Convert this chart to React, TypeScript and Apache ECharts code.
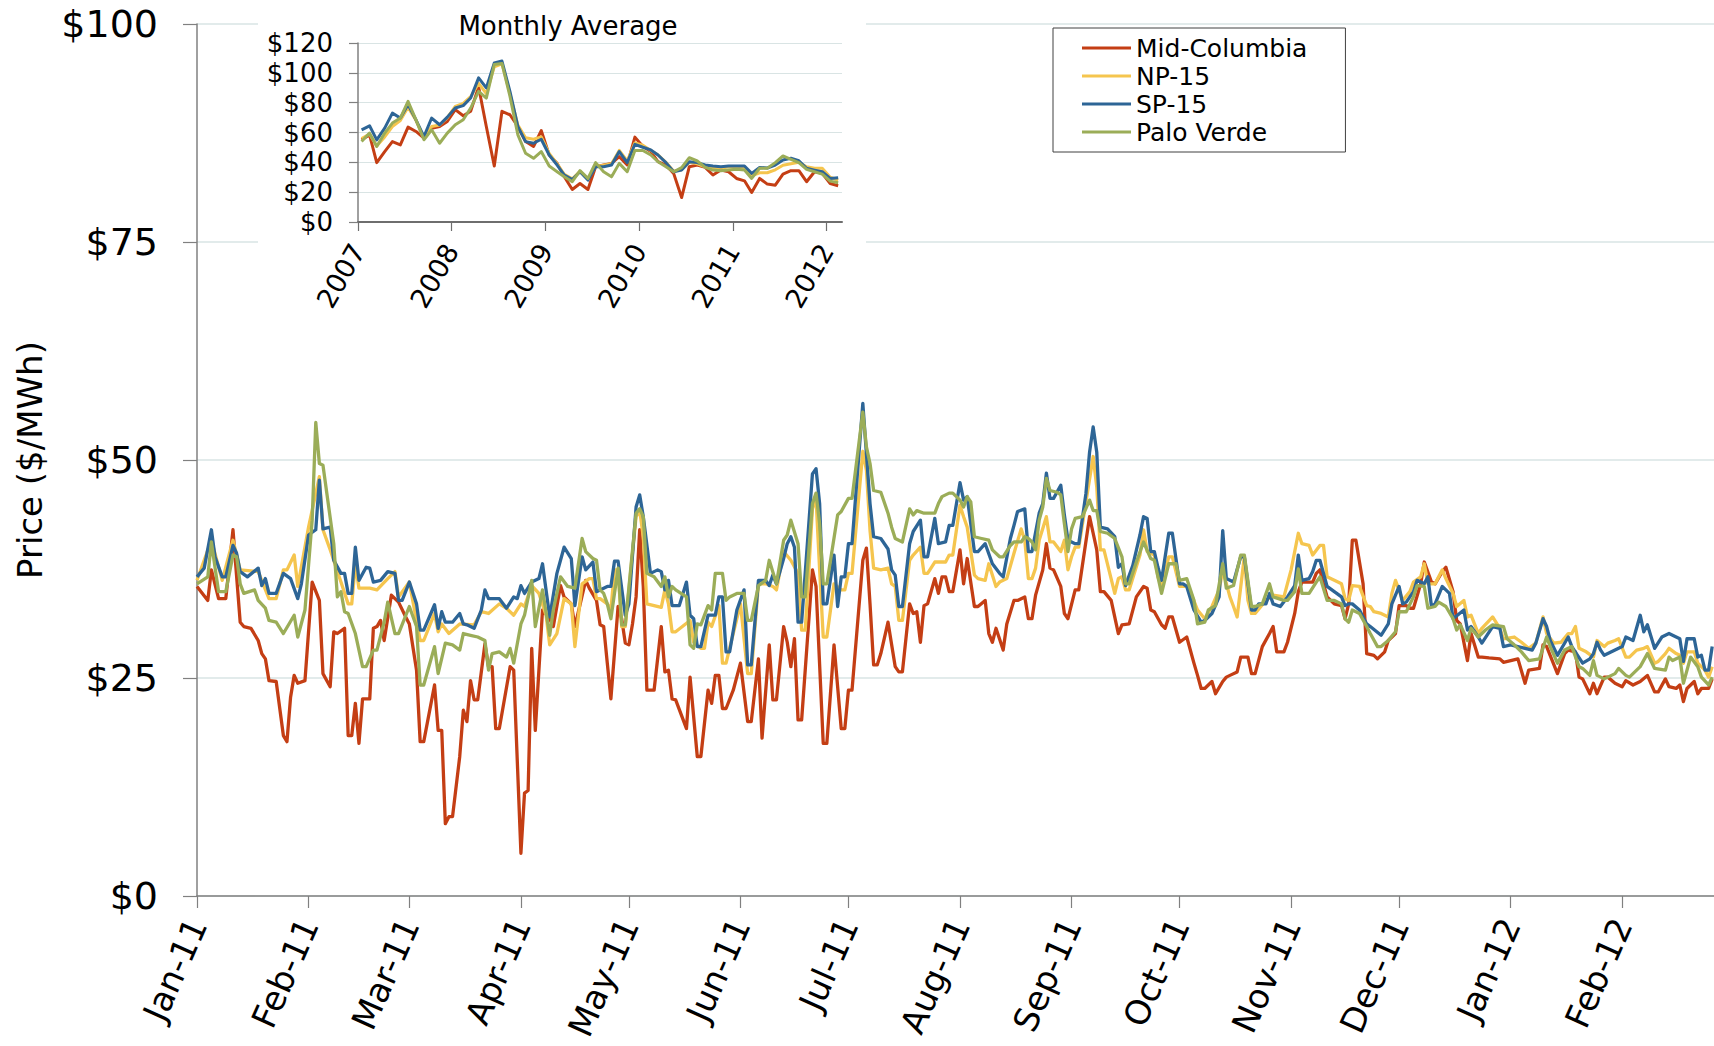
import React, { useEffect, useRef } from 'react';
import * as echarts from 'echarts';

const seriesNames = ['Mid-Columbia', 'NP-15', 'SP-15', 'Palo Verde'];
const seriesColors = ['#C43E14', '#F5C54E', '#2D6596', '#9BAD58'];
const monthNames = ['Jan', 'Feb', 'Mar', 'Apr', 'May', 'Jun', 'Jul', 'Aug', 'Sep', 'Oct', 'Nov', 'Dec'];

// Daily prices: [day counted from 1 Jan 2011, $/MWh]
const midColumbiaDaily = [[0,35.5],[3,33.9],[4,37.4],[6,34.1],[8,34.1],[10,42.0],[12,31.4],[13,30.9],[15,30.7],[17,29.3],[18,27.8],[19,27.2],[20,24.7],[22,24.6],[24,18.4],[25,17.7],[26,22.8],[27,25.3],[28,24.4],[30,24.7],[32,36.0],[34,33.9],[35,25.5],[37,24.0],[38,30.3],[39,30.1],[41,30.7],[42,18.4],[43,18.4],[44,22.1],[45,17.5],[46,22.6],[48,22.6],[49,30.7],[50,30.9],[51,31.6],[52,29.3],[54,34.5],[56,33.7],[58,32.0],[59,31.2],[61,25.9],[62,17.7],[63,17.7],[66,24.2],[67,19.0],[68,19.0],[69,8.3],[70,9.1],[71,9.1],[73,16.0],[74,21.3],[75,20.0],[76,24.7],[77,22.5],[78,22.5],[80,28.9],[81,26.3],[82,26.3],[83,19.2],[84,19.2],[87,26.3],[88,25.9],[90,4.9],[91,11.8],[92,12.1],[93,28.4],[94,19.0],[96,32.8],[98,31.8],[99,30.9],[101,35.6],[102,34.3],[104,33.5],[105,30.9],[108,36.2],[109,35.3],[111,33.9],[112,31.1],[113,30.9],[114,26.7],[115,22.6],[117,33.2],[118,31.8],[119,29.0],[120,28.8],[121,31.2],[122,34.3],[123,42.0],[124,35.5],[125,23.6],[127,23.6],[129,30.9],[130,25.7],[131,25.9],[132,22.6],[133,22.5],[136,19.2],[137,25.1],[139,16.0],[140,16.0],[142,23.6],[143,22.1],[144,25.3],[145,25.3],[146,21.5],[147,21.5],[149,23.6],[151,26.7],[153,20.0],[154,20.0],[156,27.2],[157,18.1],[159,28.8],[160,22.5],[161,22.5],[163,30.9],[164,29.1],[165,26.3],[166,29.5],[167,20.2],[168,20.2],[171,37.4],[172,35.5],[174,17.5],[175,17.5],[177,28.8],[179,19.2],[180,19.2],[181,23.6],[182,23.6],[185,38.5],[186,39.9],[187,33.5],[188,26.5],[189,26.5],[190,27.8],[192,31.4],[194,26.3],[195,25.7],[196,25.7],[198,33.5],[199,32.4],[200,32.6],[201,29.1],[202,33.3],[203,33.5],[205,36.4],[206,34.7],[207,36.6],[208,36.6],[209,34.9],[210,34.9],[212,39.7],[213,35.8],[214,38.7],[216,33.2],[217,33.2],[219,33.9],[220,30.1],[221,29.1],[222,30.7],[224,28.2],[225,31.2],[227,33.9],[228,33.9],[230,34.3],[231,31.8],[232,31.8],[233,34.5],[235,37.4],[236,40.4],[237,37.6],[238,37.4],[240,35.5],[241,32.4],[242,31.8],[244,35.1],[245,35.1],[248,43.5],[249,41.6],[250,39.7],[251,34.9],[252,34.9],[254,33.9],[256,30.1],[257,31.1],[259,31.2],[261,34.3],[263,35.5],[264,35.3],[265,32.8],[266,32.6],[268,31.1],[269,30.7],[270,32.0],[271,32.0],[273,29.1],[275,29.7],[277,26.7],[278,25.3],[279,23.8],[280,23.8],[282,24.6],[283,23.2],[285,24.6],[286,25.1],[287,25.3],[289,25.7],[290,27.4],[292,27.4],[293,25.5],[294,25.5],[296,28.6],[298,30.1],[299,30.9],[300,28.0],[302,28.0],[303,29.1],[305,32.4],[306,34.9],[307,36.0],[310,36.0],[311,37.0],[312,37.4],[313,35.8],[314,34.3],[316,33.5],[318,33.3],[319,31.8],[320,33.5],[321,40.8],[322,40.8],[324,35.8],[325,27.8],[327,27.6],[328,27.2],[330,28.0],[331,29.3],[333,30.1],[334,33.3],[336,33.3],[337,33.0],[338,33.0],[340,35.8],[341,38.3],[343,36.0],[344,35.8],[346,37.2],[347,37.7],[349,34.9],[350,31.6],[351,31.2],[353,27.0],[354,30.1],[356,27.4],[357,27.4],[359,27.3],[362,27.2],[363,26.8],[365,27.0],[367,27.2],[369,24.4],[370,25.9],[373,26.1],[374,28.8],[375,28.6],[378,25.5],[380,27.8],[381,28.2],[383,28.0],[384,25.1],[385,24.9],[387,23.2],[388,24.4],[389,23.2],[391,25.1],[392,25.1],[394,24.4],[396,24.0],[397,24.7],[399,24.2],[401,24.6],[403,25.3],[405,23.4],[406,23.4],[408,24.9],[409,24.0],[411,23.8],[412,24.2],[413,22.3],[414,23.8],[416,24.6],[417,23.2],[418,23.8],[420,23.8],[421,24.9]];

const np15Daily = [[0,36.2],[4,40.8],[7,36.2],[10,40.8],[12,37.4],[17,37.2],[20,34.1],[22,34.1],[24,37.4],[25,37.4],[27,39.1],[28,35.5],[31,42.3],[34,48.1],[35,42.0],[37,39.7],[40,36.0],[42,33.5],[43,33.5],[44,38.1],[45,35.3],[48,35.3],[50,35.1],[53,36.4],[55,37.2],[56,34.3],[59,36.0],[62,29.3],[63,29.3],[66,32.4],[67,30.3],[68,31.2],[70,30.1],[73,31.2],[77,31.1],[79,32.6],[81,32.4],[84,33.5],[86,33.0],[88,32.2],[90,33.5],[91,33.2],[93,35.6],[95,34.7],[97,32.2],[98,28.8],[100,30.1],[102,34.1],[104,33.5],[105,28.6],[107,35.8],[109,36.4],[110,36.4],[111,34.1],[112,34.1],[114,33.5],[115,32.8],[116,37.4],[117,37.4],[118,30.9],[119,30.9],[122,43.5],[123,44.2],[124,41.2],[125,33.5],[127,33.3],[129,33.1],[130,35.1],[131,33.5],[132,30.3],[133,30.3],[137,31.6],[138,29.1],[140,28.4],[141,28.4],[142,31.4],[143,30.9],[145,33.3],[146,26.7],[147,26.7],[151,33.5],[153,25.5],[154,25.5],[156,35.8],[158,35.8],[160,35.5],[161,35.1],[163,39.5],[165,38.5],[167,37.0],[168,30.5],[169,30.5],[171,44.4],[172,45.6],[173,37.4],[174,29.7],[175,29.7],[177,35.8],[179,35.1],[180,35.1],[181,37.0],[182,37.0],[185,51.0],[186,48.8],[187,41.9],[188,37.6],[190,37.4],[192,37.6],[193,35.8],[194,35.5],[195,31.6],[196,31.6],[198,38.5],[199,39.1],[201,40.0],[202,37.0],[203,37.0],[205,38.3],[206,38.3],[208,38.3],[209,39.1],[210,39.1],[212,44.8],[213,43.5],[214,42.3],[216,36.8],[217,36.4],[219,36.2],[220,38.1],[222,35.5],[223,36.0],[225,36.4],[227,39.3],[229,42.1],[230,40.8],[231,36.4],[232,36.4],[233,37.6],[234,40.8],[236,43.5],[237,40.6],[238,40.6],[240,39.5],[241,40.8],[242,37.4],[243,38.9],[244,40.0],[245,40.0],[247,45.2],[249,50.4],[250,46.9],[251,39.7],[252,39.7],[255,34.7],[256,36.4],[257,36.6],[258,35.1],[259,35.1],[262,39.1],[263,42.0],[264,39.5],[266,39.1],[267,36.6],[268,35.5],[270,38.9],[271,38.9],[273,35.5],[275,35.5],[276,34.9],[278,32.8],[280,31.8],[282,33.2],[284,35.1],[285,37.4],[287,34.3],[288,33.2],[289,32.0],[291,38.9],[292,33.9],[293,32.4],[294,32.4],[297,33.9],[299,34.5],[302,34.3],[304,37.4],[306,41.6],[307,40.4],[309,40.2],[310,39.1],[312,40.2],[313,40.2],[314,36.6],[316,36.2],[318,35.8],[319,34.1],[320,33.9],[321,35.6],[323,35.5],[325,33.3],[326,33.2],[327,32.6],[329,32.4],[331,32.0],[332,34.7],[333,36.2],[335,33.9],[337,34.9],[338,36.0],[340,36.6],[341,38.1],[342,35.8],[344,35.8],[346,37.4],[347,36.4],[349,34.7],[350,33.2],[352,33.9],[353,32.0],[354,32.2],[356,30.1],[357,30.7],[360,32.0],[362,30.7],[363,29.5],[366,29.7],[368,29.1],[370,28.4],[372,29.0],[374,32.0],[375,30.1],[377,29.0],[379,29.1],[381,30.1],[382,30.1],[383,30.9],[384,28.4],[386,28.0],[388,27.4],[389,29.3],[391,28.6],[392,29.0],[394,29.3],[395,29.5],[397,27.4],[398,27.4],[400,28.2],[402,28.4],[403,28.6],[405,26.7],[406,26.9],[408,27.8],[409,28.4],[411,27.8],[412,27.6],[413,26.7],[414,28.0],[416,28.0],[417,26.7],[419,25.9],[420,25.1],[421,26.3]];

const sp15Daily = [[0,36.6],[2,37.6],[4,42.0],[5,38.9],[7,36.6],[8,36.6],[10,40.2],[11,39.3],[12,37.2],[14,36.6],[17,37.6],[18,35.6],[19,36.4],[20,34.7],[22,34.7],[24,37.0],[26,36.4],[28,34.1],[29,35.8],[31,41.4],[33,42.0],[34,47.7],[35,42.1],[37,42.3],[38,38.5],[40,37.0],[41,37.0],[42,34.7],[43,34.7],[44,40.0],[45,36.2],[47,37.7],[48,37.6],[49,36.0],[51,36.2],[53,37.2],[55,37.0],[56,33.9],[57,33.9],[59,36.0],[61,33.5],[62,30.5],[63,30.5],[66,33.4],[67,30.7],[68,32.6],[69,31.4],[71,31.4],[73,32.4],[74,31.2],[75,31.1],[77,30.7],[79,32.8],[80,35.1],[81,34.1],[84,34.1],[86,33.0],[88,34.3],[89,34.1],[90,35.6],[91,34.7],[93,36.0],[95,36.4],[96,38.1],[98,32.0],[100,37.0],[102,40.0],[104,38.7],[105,33.3],[107,38.9],[108,37.4],[110,38.3],[111,34.9],[112,35.1],[114,35.5],[115,35.5],[116,38.4],[117,38.4],[119,32.2],[120,33.5],[122,44.6],[123,46.0],[124,43.5],[126,37.0],[128,37.4],[129,37.2],[130,35.1],[131,36.2],[132,33.3],[134,33.3],[136,36.0],[137,32.2],[138,31.8],[139,28.6],[140,28.6],[142,32.2],[144,32.2],[145,34.3],[146,34.3],[147,28.0],[148,28.0],[150,32.8],[152,35.1],[153,26.5],[154,26.5],[156,36.2],[158,36.2],[159,35.6],[160,36.8],[161,35.8],[163,38.7],[164,40.4],[165,41.2],[166,40.0],[167,31.4],[168,31.4],[171,48.4],[172,49.0],[173,45.0],[174,33.5],[175,33.5],[177,39.1],[178,33.2],[179,36.6],[180,36.6],[181,40.4],[182,40.4],[185,56.5],[186,50.7],[187,45.0],[188,41.2],[190,41.0],[192,39.8],[193,37.4],[194,36.8],[195,33.2],[196,33.2],[198,40.4],[199,41.8],[201,43.1],[202,38.9],[203,38.9],[205,43.3],[206,40.4],[208,40.6],[209,42.5],[210,42.5],[212,47.4],[213,45.4],[214,45.8],[216,39.5],[217,39.5],[219,40.4],[221,38.1],[223,37.0],[224,36.6],[226,41.0],[227,42.5],[228,44.1],[230,44.4],[231,39.5],[232,39.5],[234,43.9],[235,45.0],[236,48.5],[237,45.6],[238,45.6],[240,47.1],[241,43.7],[242,40.8],[244,40.4],[245,40.4],[247,46.2],[248,50.9],[249,53.8],[250,50.9],[251,42.3],[253,42.1],[255,41.2],[256,37.7],[257,38.1],[258,35.6],[260,37.9],[262,41.4],[263,43.5],[264,43.3],[265,39.5],[266,39.5],[267,37.7],[268,36.2],[270,41.6],[271,41.6],[273,35.8],[274,35.8],[275,35.5],[277,32.8],[279,31.4],[280,31.6],[282,32.4],[284,34.3],[285,41.9],[286,36.4],[288,36.0],[290,38.9],[291,38.9],[293,32.8],[294,32.8],[295,33.5],[297,33.5],[298,34.7],[299,33.5],[301,33.2],[303,34.3],[305,35.6],[306,39.1],[307,36.2],[309,36.4],[310,37.2],[311,38.5],[312,38.5],[314,35.5],[316,34.9],[318,34.3],[319,33.3],[320,33.5],[321,33.5],[323,32.8],[325,31.2],[326,30.9],[329,29.9],[331,31.2],[332,33.5],[334,35.5],[335,33.5],[336,33.7],[338,34.9],[339,36.2],[341,35.8],[342,36.6],[343,33.2],[344,33.5],[346,35.5],[348,34.7],[349,31.8],[352,32.8],[353,30.5],[354,30.9],[356,29.7],[357,29.0],[360,30.9],[362,30.7],[363,28.6],[365,28.8],[367,28.6],[369,28.4],[371,28.2],[372,29.0],[374,31.8],[375,30.9],[376,29.3],[378,27.6],[381,29.7],[382,28.6],[385,26.7],[387,27.2],[388,27.8],[389,29.1],[390,28.2],[391,27.6],[394,28.2],[396,28.6],[397,29.7],[399,29.3],[401,32.2],[402,30.3],[403,31.1],[405,28.4],[407,29.7],[409,30.1],[411,29.7],[412,29.5],[413,26.9],[414,29.5],[416,29.5],[417,27.4],[418,27.6],[419,25.9],[420,25.9],[421,28.6]];

const paloVerdeDaily = [[0,35.8],[3,36.6],[4,40.6],[5,37.7],[6,34.9],[8,34.9],[10,39.1],[11,38.9],[12,35.8],[13,34.7],[16,35.1],[17,33.9],[19,33.0],[20,31.6],[22,31.4],[24,30.1],[27,32.2],[28,29.7],[30,32.8],[32,43.1],[33,54.3],[34,49.6],[35,49.4],[38,40.4],[39,34.3],[40,34.9],[41,32.6],[42,32.4],[44,30.1],[46,26.3],[47,26.3],[49,28.2],[50,28.2],[52,31.4],[53,33.7],[55,30.1],[56,30.1],[59,33.2],[61,30.9],[62,24.2],[63,24.2],[66,28.6],[67,25.5],[69,29.0],[71,28.8],[73,28.2],[74,30.1],[76,29.9],[78,29.7],[80,29.3],[81,25.9],[82,27.8],[84,28.0],[86,27.4],[87,28.4],[88,26.7],[90,31.2],[91,32.2],[93,36.2],[94,30.9],[96,35.1],[98,29.9],[99,32.8],[101,36.6],[103,35.5],[105,35.3],[107,41.0],[108,39.5],[110,38.7],[111,38.5],[112,35.1],[113,34.7],[114,33.5],[115,31.8],[117,37.6],[118,31.1],[119,31.1],[122,43.9],[123,44.4],[124,43.5],[125,37.0],[127,36.6],[129,35.5],[130,36.6],[131,34.3],[132,35.5],[133,35.1],[136,34.3],[137,28.8],[138,28.4],[139,31.2],[140,31.1],[142,33.3],[143,32.8],[144,37.0],[146,37.0],[147,33.9],[148,34.3],[150,34.7],[152,34.7],[153,31.6],[154,31.6],[156,35.6],[158,36.2],[159,38.5],[161,35.8],[163,40.8],[164,41.4],[165,43.1],[167,40.4],[168,34.3],[169,34.3],[171,45.0],[172,46.2],[173,42.7],[174,35.8],[175,35.8],[178,43.7],[179,44.1],[181,45.6],[182,45.6],[185,55.5],[186,51.5],[187,49.6],[188,46.5],[190,46.3],[192,43.9],[193,42.3],[194,41.0],[196,40.6],[198,44.4],[199,43.7],[200,44.2],[202,43.9],[205,43.9],[206,45.0],[207,45.8],[209,46.2],[210,46.2],[212,45.4],[213,44.6],[214,45.8],[215,45.2],[216,41.2],[218,41.0],[220,40.8],[221,39.7],[223,38.9],[224,38.9],[226,40.2],[227,40.6],[229,40.6],[230,41.2],[231,41.0],[232,40.6],[233,39.7],[234,43.1],[235,44.6],[236,47.9],[237,46.5],[239,46.3],[240,46.0],[241,42.7],[242,39.5],[243,42.1],[244,43.3],[246,43.5],[248,45.4],[249,44.2],[250,44.2],[251,41.8],[253,41.6],[255,41.0],[257,38.9],[258,35.8],[259,35.8],[261,38.3],[263,40.6],[265,38.7],[266,38.5],[268,34.7],[270,38.1],[272,38.1],[273,36.2],[275,36.4],[277,33.9],[278,31.2],[280,31.4],[281,32.8],[283,33.3],[285,38.1],[286,35.3],[288,35.6],[290,39.1],[291,39.1],[293,33.2],[294,33.2],[296,33.5],[298,35.8],[299,34.3],[302,33.9],[303,33.9],[305,34.9],[306,37.5],[307,34.7],[309,34.7],[311,36.0],[312,36.6],[314,33.9],[316,33.9],[318,33.5],[319,31.8],[320,31.4],[321,32.8],[323,32.4],[325,30.9],[326,30.1],[328,28.6],[329,28.6],[331,29.3],[333,30.3],[334,32.6],[336,32.6],[338,34.3],[339,35.6],[341,35.5],[342,33.0],[344,33.2],[345,33.7],[347,33.2],[349,31.8],[350,30.5],[351,31.1],[353,29.3],[354,30.7],[356,29.7],[358,30.5],[360,31.1],[363,30.9],[364,29.5],[366,28.8],[368,28.0],[370,27.0],[373,27.2],[375,29.7],[376,28.6],[378,26.7],[380,28.2],[382,28.6],[384,26.3],[385,26.1],[387,25.3],[388,27.0],[389,25.3],[391,24.9],[394,25.5],[395,26.1],[397,25.3],[398,25.1],[401,26.3],[403,27.8],[405,26.1],[408,25.9],[409,27.4],[410,27.0],[412,27.4],[413,24.4],[415,27.4],[417,26.3],[418,25.1],[420,24.2],[421,25.1]];

// Monthly averages, Jan 2007 - Feb 2012
const midColumbiaMonthly = [55.1,58.4,39.8,47.2,53.9,51.7,63.6,60.7,56.2,62.9,64.0,67.4,75.3,71.2,74.2,90.6,64.0,37.5,74.2,71.9,64.0,53.9,50.6,61.3,44.9,39.3,30.3,21.8,25.8,21.8,37.1,38.2,39.3,43.8,38.2,56.9,50.6,47.2,40.4,38.2,32.6,16.4,37.1,38.2,36.6,31.5,34.8,33.7,29.2,27.6,19.8,29.2,25.4,24.7,32.1,34.4,34.4,27.0,33.7,32.6,25.8,24.3];
const np15Monthly = [56.0,59.0,51.0,57.0,64.0,68.0,77.0,68.0,56.0,64.0,65.0,70.0,77.5,79.5,84.0,93.0,86.0,104.0,106.0,86.0,65.0,56.5,55.5,57.0,46.0,39.0,32.0,29.0,34.0,29.0,37.0,38.0,39.0,48.0,41.0,53.0,51.5,48.0,45.0,40.0,34.0,35.0,40.0,39.0,37.0,36.0,36.0,37.0,36.0,36.0,31.0,33.0,33.0,35.0,38.0,39.0,40.0,37.0,36.0,36.0,30.0,28.0];
const sp15Monthly = [61.8,64.5,55.1,62.9,73.0,69.7,78.7,68.5,57.3,69.7,65.2,70.3,76.4,78.0,83.1,96.6,89.9,106.7,107.9,87.6,64.0,53.9,52.8,55.5,44.9,38.2,31.5,28.5,33.7,28.1,37.1,37.1,38.2,47.2,39.8,52.1,50.1,48.3,44.9,39.8,33.7,34.8,40.4,39.8,38.2,37.5,37.1,37.5,37.5,37.5,32.6,36.6,36.2,38.2,41.6,42.7,41.1,36.0,34.8,33.7,29.2,29.7];
const paloVerdeMonthly = [53.9,59.6,50.6,59.6,66.3,69.7,80.9,68.5,55.1,61.8,52.8,59.6,65.2,68.5,76.4,87.6,83.1,105.6,106.3,84.3,58.4,46.1,42.7,47.2,37.5,33.7,30.3,27.0,34.4,29.2,39.8,33.7,30.3,39.3,33.7,47.9,47.9,44.9,40.4,37.1,33.7,36.4,43.1,40.9,36.6,34.8,34.4,34.8,35.3,34.8,29.2,36.0,36.0,39.8,44.3,42.0,39.8,35.3,33.7,32.1,27.4,26.3];

const FONT = 'DejaVu Sans';
const DAY = 86400000;

const dayToTime = (d: number) => new Date(2011, 0, 1 + d).getTime();
const monthToTime = (i: number) => new Date(2007, i, 15).getTime();

export default function App() {
  const ref = useRef<HTMLDivElement>(null);

  useEffect(() => {
    if (!ref.current) return;
    const chart = echarts.init(ref.current, undefined, { renderer: 'svg' });

    const dailySets = [midColumbiaDaily, np15Daily, sp15Daily, paloVerdeDaily];
    const monthlySets = [midColumbiaMonthly, np15Monthly, sp15Monthly, paloVerdeMonthly];

    const mainMin = new Date(2011, 0, 1).getTime();
    const mainMax = mainMin + 421.5 * DAY;
    const insetMin = new Date(2007, 0, 1).getTime();
    const insetMax = new Date(2012, 2, 1).getTime();

    const mainSeries = dailySets.map((arr, i) => ({
      type: 'line',
      name: seriesNames[i],
      xAxisIndex: 0,
      yAxisIndex: 0,
      data: arr.map(([d, v]) => [dayToTime(d), v]),
      showSymbol: false,
      symbol: 'none',
      silent: true,
      z: 2,
      lineStyle: { width: 3.3, color: seriesColors[i], join: 'round' },
      itemStyle: { color: seriesColors[i] },
    }));

    const insetSeries = monthlySets.map((arr, i) => ({
      type: 'line',
      name: seriesNames[i],
      xAxisIndex: 1,
      yAxisIndex: 1,
      data: arr.map((v, m) => [monthToTime(m), v]),
      showSymbol: false,
      symbol: 'none',
      silent: true,
      z: 6,
      lineStyle: { width: 3, color: seriesColors[i], join: 'round' },
      itemStyle: { color: seriesColors[i] },
    }));

    const gridColor = '#D9E4E4';
    const axisGray = '#808080';

    chart.setOption({
      animation: false,
      backgroundColor: '#ffffff',
      grid: [
        { left: 197, top: 24, width: 1517, height: 872, outerBoundsMode: 'none', containLabel: false },
        { left: 358, top: 43, width: 484, height: 179, outerBoundsMode: 'none', containLabel: false },
      ],
      xAxis: [
        {
          type: 'time',
          gridIndex: 0,
          min: mainMin,
          max: mainMax,
          splitNumber: 14,
          minInterval: 28 * DAY,
          maxInterval: 31 * DAY,
          axisLine: { show: true, lineStyle: { color: axisGray, width: 1.5 } },
          axisTick: { show: true, length: 12, lineStyle: { color: axisGray, width: 1.2 } },
          splitLine: { show: false },
          axisLabel: {
            interval: 0,
            rotate: 66,
            margin: 24,
            fontSize: 34,
            fontFamily: FONT,
            color: '#000',
            formatter: (val: number) => {
              const d = new Date(val);
              if (d.getDate() !== 1 || d.getHours() !== 0) return '';
              return monthNames[d.getMonth()] + '-' + String(d.getFullYear()).slice(2);
            },
          },
        },
        {
          type: 'time',
          gridIndex: 1,
          min: insetMin,
          max: insetMax,
          splitNumber: 5,
          minInterval: 365 * DAY,
          maxInterval: 366 * DAY,
          z: 5,
          axisLine: { show: true, lineStyle: { color: '#6e6e6e', width: 2 } },
          axisTick: { show: true, length: 9, lineStyle: { color: '#6e6e6e', width: 1.2 } },
          splitLine: { show: false },
          axisLabel: {
            interval: 0,
            rotate: 60,
            margin: 24,
            fontSize: 27,
            fontFamily: FONT,
            color: '#000',
            formatter: (val: number) => {
              const d = new Date(val);
              if (d.getMonth() !== 0 || d.getDate() !== 1) return '';
              return String(d.getFullYear());
            },
          },
        },
      ],
      yAxis: [
        {
          type: 'value',
          gridIndex: 0,
          min: 0,
          max: 100,
          interval: 25,
          name: 'Price ($/MWh)',
          nameLocation: 'middle',
          nameGap: 150,
          nameMoveOverlap: false,
          nameTextStyle: { fontSize: 34, fontFamily: FONT, color: '#000' },
          axisLine: { show: true, lineStyle: { color: axisGray, width: 1.5 } },
          axisTick: { show: true, length: 14, lineStyle: { color: axisGray, width: 1.2 } },
          splitLine: { show: true, lineStyle: { color: gridColor, width: 1.5 } },
          axisLabel: {
            margin: 39,
            fontSize: 38,
            fontFamily: FONT,
            color: '#000',
            formatter: (v: number) => '$' + v,
          },
        },
        {
          type: 'value',
          gridIndex: 1,
          min: 0,
          max: 120,
          interval: 20,
          z: 5,
          axisLine: { show: true, lineStyle: { color: axisGray, width: 1.5 } },
          axisTick: { show: true, length: 9, lineStyle: { color: axisGray, width: 1.2 } },
          splitLine: { show: true, lineStyle: { color: gridColor, width: 1.2 } },
          axisLabel: {
            margin: 25,
            fontSize: 26,
            fontFamily: FONT,
            color: '#000',
            formatter: (v: number) => '$' + v,
          },
        },
      ],
      legend: {
        data: seriesNames,
        orient: 'vertical',
        left: 1053,
        top: 28,
        padding: [6, 38, 6, 29],
        itemWidth: 49,
        itemHeight: 3,
        itemGap: 0,
        icon: 'rect',
        selectedMode: false,
        backgroundColor: '#ffffff',
        borderColor: '#404040',
        borderWidth: 1,
        textStyle: { fontSize: 25, fontFamily: FONT, color: '#000', lineHeight: 28 },
      },
      graphic: {
        elements: [
          {
            type: 'rect',
            z: 1,
            silent: true,
            shape: { x: 258, y: 0, width: 608, height: 325 },
            style: { fill: '#ffffff' },
          },
          {
            type: 'text',
            z: 7,
            x: 568,
            y: 26,
            style: {
              text: 'Monthly Average',
              fontSize: 26,
              fontFamily: FONT,
              fill: '#000',
              textAlign: 'center',
              textVerticalAlign: 'middle',
              verticalAlign: 'middle',
            },
          },
        ],
      },
      series: [...mainSeries, ...insetSeries],
    });

    return () => chart.dispose();
  }, []);

  return (
    <div
      ref={ref}
      style={{ position: 'fixed', left: 0, top: 0, width: 1714, height: 1046, background: '#fff' }}
    />
  );
}
